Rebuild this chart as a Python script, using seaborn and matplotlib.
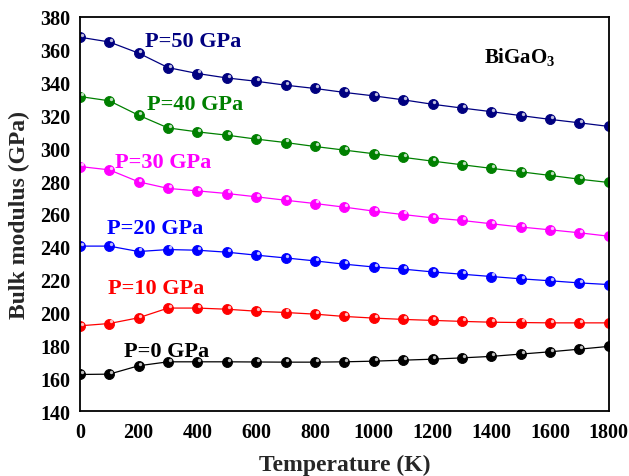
import numpy as np
import pandas as pd
import matplotlib
matplotlib.use("Agg")
import matplotlib.pyplot as plt
import matplotlib.transforms as mtransforms
from matplotlib.ticker import MultipleLocator
import seaborn as sns

temperature = [0, 100, 200, 300, 400, 500, 600, 700, 800, 900,
               1000, 1100, 1200, 1300, 1400, 1500, 1600, 1700, 1800]

b_p0 = [162.3, 162.5, 167.6, 170.0, 170.0, 170.0, 169.9, 169.8, 169.8, 170.0,
        170.4, 171.0, 171.6, 172.4, 173.3, 174.7, 176.1, 177.7, 179.4]
b_p10 = [191.9, 193.3, 196.8, 202.7, 202.7, 202.0, 200.8, 200.0, 199.0, 197.6,
         196.6, 195.8, 195.2, 194.6, 194.1, 193.9, 193.7, 193.7, 193.7]
b_p20 = [240.4, 240.4, 237.1, 238.3, 237.9, 236.7, 234.9, 233.2, 231.4, 229.4,
         227.7, 226.4, 224.7, 223.3, 221.9, 220.5, 219.3, 218.0, 217.0]
b_p30 = [288.8, 286.8, 279.5, 275.5, 274.0, 272.4, 270.4, 268.3, 266.3, 264.1,
         261.7, 259.6, 257.6, 256.0, 254.0, 252.0, 250.3, 248.5, 246.4]
b_p40 = [331.4, 328.8, 320.0, 312.3, 309.9, 307.9, 305.5, 303.4, 301.0, 298.8,
         296.6, 294.4, 292.1, 289.9, 287.7, 285.6, 283.4, 281.1, 279.1]
b_p50 = [367.5, 364.6, 357.8, 349.0, 345.4, 342.7, 340.7, 338.3, 336.3, 333.9,
         331.8, 329.4, 326.7, 324.4, 322.2, 319.8, 317.5, 315.4, 313.2]

series_labels = ["P=0 GPa", "P=10 GPa", "P=20 GPa", "P=30 GPa", "P=40 GPa", "P=50 GPa"]
series_values = [b_p0, b_p10, b_p20, b_p30, b_p40, b_p50]
series_colors = ["#000000", "#ff0000", "#0000ff", "#ff00ff", "#008000", "#000080"]

# label anchor positions (data coords)
label_T = [150, 95, 92, 119, 228, 221]
label_B = [176.5, 214.8, 251.3, 291.5, 326.7, 365.0]

rows = []
for lab, vals in zip(series_labels, series_values):
    for t, v in zip(temperature, vals):
        rows.append({"T": t, "B": v, "P": lab})
df = pd.DataFrame(rows)

sns.set_theme(style="white")
plt.rcParams["font.family"] = ["Liberation Serif", "DejaVu Serif"]
plt.rcParams["font.weight"] = "bold"
plt.rcParams["mathtext.fontset"] = "custom"
plt.rcParams["mathtext.rm"] = "Liberation Serif:bold"
plt.rcParams["mathtext.bf"] = "Liberation Serif:bold"
plt.rcParams["mathtext.it"] = "Liberation Serif:bold"

fig = plt.figure(figsize=(6.29, 4.77), dpi=100)
ax = fig.add_axes([0.127, 0.136, 0.841, 0.827])

palette = dict(zip(series_labels, series_colors))
sns.lineplot(data=df, x="T", y="B", hue="P", palette=palette, ax=ax,
             marker="o", markersize=7.2, linewidth=0.9, markeredgewidth=0.6,
             legend=False, estimator=None, sort=False)
for line, c in zip(ax.get_lines(), series_colors):
    line.set_markeredgecolor(c)

# specular highlight for the ball-like markers
hl = mtransforms.offset_copy(ax.transData, fig=fig, x=1.3, y=1.5, units="points")
for vals in series_values:
    ax.plot(temperature, vals, linestyle="none", marker="o", markersize=2.4,
            markerfacecolor="white", markeredgewidth=0, alpha=0.75, transform=hl)

for lab, c, tx, ty in zip(series_labels, series_colors, label_T, label_B):
    ax.text(tx, ty, lab, color=c, fontsize=16, fontweight="bold",
            ha="left", va="center")

ax.text(1376, 356, "BiGaO$_3$", color="black", fontsize=15, fontweight="bold",
        ha="left", va="center")

ax.set_xlim(0, 1800)
ax.set_ylim(140, 380)
ax.xaxis.set_major_locator(MultipleLocator(200))
ax.xaxis.set_minor_locator(MultipleLocator(100))
ax.yaxis.set_major_locator(MultipleLocator(20))
ax.yaxis.set_minor_locator(MultipleLocator(10))
ax.tick_params(axis="both", which="both", direction="in", top=False, right=False,
               colors="black")
ax.tick_params(axis="both", which="major", length=6, width=1.0, labelsize=14.5, pad=7)
ax.tick_params(axis="both", which="minor", length=3.5, width=1.0)
ax.tick_params(axis="x", which="major", pad=8)
for lbl in ax.get_xticklabels() + ax.get_yticklabels():
    lbl.set_fontweight("bold")

for s in ax.spines.values():
    s.set_color("black")
    s.set_linewidth(1.3)

ax.set_xlabel("Temperature (K)", fontsize=17, fontweight="bold", labelpad=8)
ax.set_ylabel("Bulk modulus (GPa)", fontsize=17, fontweight="bold", labelpad=7)

fig.savefig("out.png", dpi=100)
